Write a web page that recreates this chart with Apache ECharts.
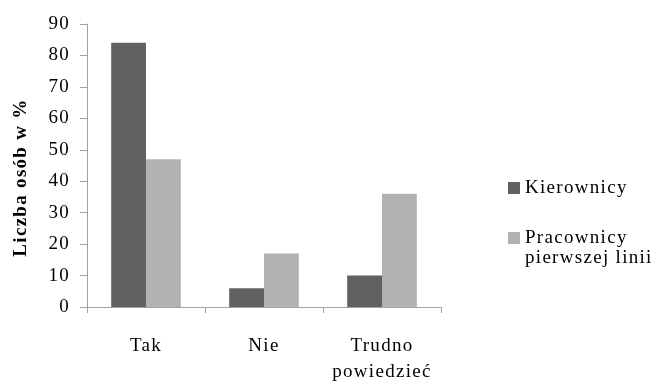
<!DOCTYPE html>
<html>
<head>
<meta charset="utf-8">
<script src="https://cdn.jsdelivr.net/npm/echarts@6/dist/echarts.min.js"></script>
<style>
  html, body { margin: 0; padding: 0; background: #fff; }
  #chart { width: 653px; height: 385px; }
</style>
</head>
<body>
<div id="chart"></div>
<script>
// Survey answers, percent of respondents per group
var categories = ['Tak', 'Nie', 'Trudno\npowiedzieć'];
var kierownicy = [84, 6, 10];
var pracownicy = [47, 17, 36];
var seriesNames = ['Kierownicy', 'Pracownicy\npierwszej linii'];
var yTicks = { min: 0, max: 90, step: 10 };

// widely tracked lettering for every label drawn on the canvas
(function () {
  var proto = CanvasRenderingContext2D.prototype;
  var fill = proto.fillText;
  proto.fillText = function () {
    if ('letterSpacing' in this) this.letterSpacing = '1.3px';
    return fill.apply(this, arguments);
  };
})();

var serif = '"Liberation Serif", "DejaVu Serif", serif';
var axisGrey = '#a3a3a3';
var legendText = { fontFamily: serif, fontSize: 19, color: '#000', lineHeight: 20 };

var chart = echarts.init(document.getElementById('chart'), null, { renderer: 'canvas' });
chart.setOption({
  animation: false,
  backgroundColor: '#ffffff',
  grid: { left: 87, right: 212, top: 24, bottom: 70 },
  legend: [
    {
      orient: 'vertical',
      left: 508,
      top: 178,
      padding: 0,
      itemWidth: 12,
      itemHeight: 12,
      itemGap: 7,
      icon: 'rect',
      textStyle: legendText,
      data: [seriesNames[0]]
    },
    {
      orient: 'vertical',
      left: 508,
      top: 208,
      padding: 0,
      itemWidth: 12,
      itemHeight: 12,
      itemGap: 7,
      icon: 'rect',
      textStyle: legendText,
      // a blank leading line keeps the first text line level with the swatch
      formatter: function (name) { return '\n' + name; },
      data: [seriesNames[1]]
    }
  ],
  xAxis: {
    type: 'category',
    data: categories,
    axisLine: { show: true, lineStyle: { color: axisGrey, width: 1 } },
    axisTick: { show: true, length: 6, lineStyle: { color: axisGrey } },
    axisLabel: { fontFamily: serif, fontSize: 19, color: '#000', margin: 26, lineHeight: 26 }
  },
  yAxis: {
    type: 'value',
    min: yTicks.min,
    max: yTicks.max,
    interval: yTicks.step,
    name: 'Liczba osób w %',
    nameLocation: 'middle',
    nameGap: 56,
    nameTextStyle: {
      fontFamily: serif, fontSize: 19, fontWeight: 'bold', color: '#000',
      padding: [0, 24, 0, 0]
    },
    axisLine: { show: true, lineStyle: { color: axisGrey, width: 1 } },
    axisTick: { show: true, length: 7, lineStyle: { color: axisGrey } },
    splitLine: { show: false },
    axisLabel: { fontFamily: serif, fontSize: 19, color: '#000', margin: 17 }
  },
  series: [
    {
      name: seriesNames[0],
      type: 'bar',
      data: kierownicy,
      itemStyle: { color: '#616161' },
      barGap: '0%',
      barCategoryGap: '41%'
    },
    {
      name: seriesNames[1],
      type: 'bar',
      data: pracownicy,
      itemStyle: { color: '#b2b2b2' },
      barGap: '0%',
      barCategoryGap: '41%'
    }
  ]
});
</script>
</body>
</html>
